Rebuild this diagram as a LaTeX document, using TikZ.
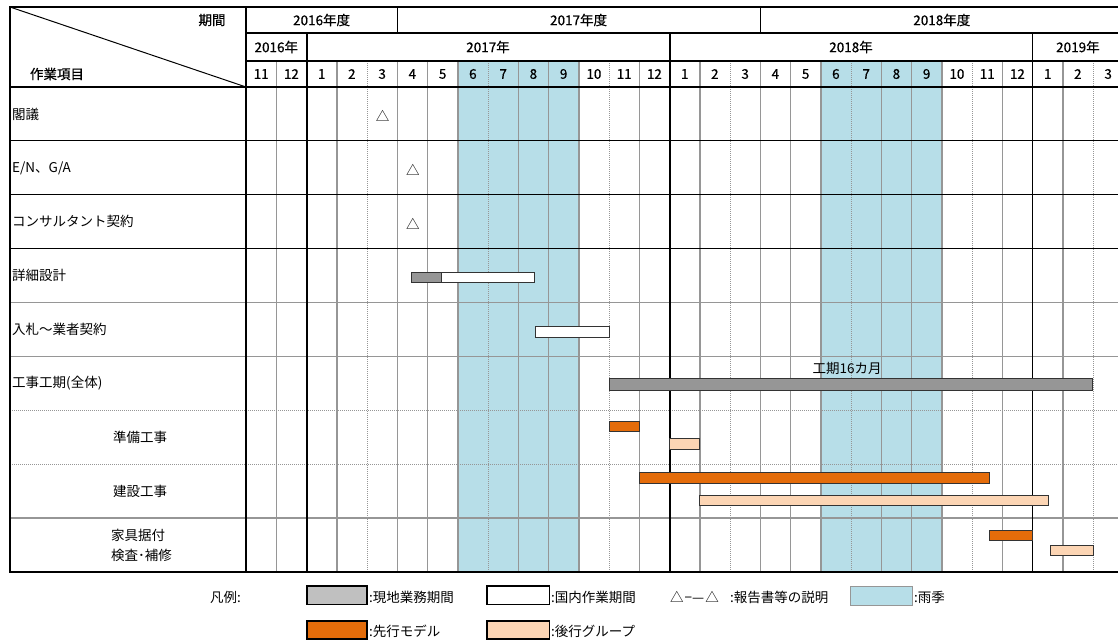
\documentclass[tikz,border=0pt]{standalone}
\usepackage{fontspec}
\setmainfont{Noto Sans CJK JP}
\newfontfamily\hdrfont{Noto Sans CJK JP}[FakeBold=0.6]
\definecolor{rain}{RGB}{183,222,232}
\definecolor{gridgray}{RGB}{150,150,150}
\definecolor{bargray}{RGB}{150,150,150}
\definecolor{leggray}{RGB}{192,192,192}
\definecolor{orangebar}{RGB}{228,108,10}
\definecolor{peach}{RGB}{252,213,180}
\tikzset{
  txt/.style={inner sep=0pt, font=\fontsize{13.5}{15}\selectfont},
  hdr/.style={inner sep=0pt, font=\fontsize{13.5}{15}\selectfont\hdrfont},
  gline/.style={draw=gridgray, line width=1.5pt},
  dline/.style={draw=gridgray, line width=1pt, dash pattern=on 1pt off 1pt},
  bline/.style={draw=black, line width=1pt},
  thick line/.style={draw=black, line width=2pt},
  bar/.style={draw=black!80, line width=0.9pt},
  legbox/.style={draw=black, line width=1.6pt},
}
\begin{document}
\begin{tikzpicture}[x=1pt,y=-1pt]
\useasboundingbox (0,0) rectangle (1118,641);
\begin{scope}
\clip (0,0) rectangle (1118,641);
% rainy season shading
\fill[rain] (457.75,61) rectangle (578.75,572);
\fill[rain] (820.75,61) rectangle (941.75,572);
% vertical grid lines (month row + body)
\foreach \i in {1,3,5,6,7,9,10,11,13,15,17,18,19,21,22,23,25,27,29}
  \draw[gline] ({246+\i*30.25},61) -- ({246+\i*30.25},572);
\foreach \i in {4,8,12,16,20,24,28}
  \draw[dline] ({246+\i*30.25},61) -- ({246+\i*30.25},572);
% horizontal body lines
\foreach \k in {4,5}
  \draw[gline] (10,{87+53.9*\k}) -- (1118,{87+53.9*\k});
\draw[gline] (10,{87+53.9*8}) -- (1118,{87+53.9*8});
\foreach \k in {6,7}
  \draw[dline] (10,{87+53.9*\k}) -- (1118,{87+53.9*\k});
\foreach \k in {1,2,3}
  \draw[bline] (10,{87+53.9*\k}) -- (1118,{87+53.9*\k});
% year boundaries
\draw[thick line] ({246+2*30.25},33) -- ({246+2*30.25},572);
\draw[thick line] ({246+14*30.25},33) -- ({246+14*30.25},572);
\draw[bline] ({246+26*30.25},33) -- ({246+26*30.25},572);
% fiscal year boundaries (row 1)
\draw[bline, line width=1.3pt] ({246+5*30.25},7) -- ({246+5*30.25},33);
\draw[bline, line width=1.3pt] ({246+17*30.25},7) -- ({246+17*30.25},33);
% header horizontals
\draw[bline, line width=1.3pt] (246,33) -- (1118,33);
\draw[bline, line width=1.3pt] (246,61) -- (1118,61);
\draw[thick line] (10,87) -- (1118,87);
% diagonal
\draw[bline] (10,7) -- (246,87);
% outer frame
\draw[thick line] (246,7) -- (246,572);
\draw[thick line] (1118,7) -- (10,7) -- (10,572) -- (1118,572);

% header texts
\node[hdr] (hperiod) at (212,20) {期間};
\node[hdr] (hitem) at (57,74) {作業項目};
\node[hdr] (fy16) at (321.6,20) {2016年度};
\node[hdr] (fy17) at (578.6,20) {2017年度};
\node[hdr] (fy18) at (941.8,20) {2018年度};
\node[hdr] (y16) at (276.3,47) {2016年};
\node[hdr] (y17) at (488.0,47) {2017年};
\node[hdr] (y18) at (851.0,47) {2018年};
\node[hdr] (y19) at (1077.9,47) {2019年};
\foreach \m [count=\i from 0] in {11,12,1,2,3,4,5,6,7,8,9,10,11,12,1,2,3,4,5,6,7,8,9,10,11,12,1,2,3}
  \node[hdr] (m\i) at ({246+(\i+0.5)*30.25},74) {\m};

% row labels
\node[txt, anchor=west] (r1) at (12,114.0) {閣議};
\node[txt, anchor=west] (r2) at (12,167.9) {E/N、G/A};
\node[txt, anchor=west] (r3) at (12,221.8) {コンサルタント契約};
\node[txt, anchor=west] (r4) at (12,275.7) {詳細設計};
\node[txt, anchor=west] (r5) at (12,329.6) {入札～業者契約};
\node[txt, anchor=west] (r6) at (12,383.5) {工事工期(全体)};
\node[txt] (r7) at (140,437.4) {準備工事};
\node[txt] (r8) at (140,491.3) {建設工事};
\node[txt, anchor=west] (r9a) at (111,535) {家具据付};
\node[txt, anchor=west] (r9b) at (111,555) {検査･補修};

% milestones
\node[txt] (t1) at (382.6,116) {△};
\node[txt] (t2) at (412.9,170) {△};
\node[txt] (t3) at (412.9,224) {△};

% bars
\draw[bar, fill=bargray] (411,272.3) rectangle (441.5,282.8);
\draw[bar, fill=white] (441.5,272.3) rectangle (534.5,282.8);
\draw[bar, fill=white] (535,326.3) rectangle (609.3,337.3);
\draw[bar, fill=bargray] (609.3,378.3) rectangle (1092.5,390.7);
\node[txt] (dur) at (847,368) {工期16カ月};
\draw[bar, fill=orangebar] (609.3,421.5) rectangle (639.5,431.5);
\draw[bar, fill=peach] (669.5,438.5) rectangle (699.8,449);
\draw[bar, fill=orangebar] (639.5,472.7) rectangle (989,483.3);
\draw[bar, fill=peach] (699.8,495) rectangle (1048.3,505.7);
\draw[bar, fill=orangebar] (989,530.3) rectangle (1032,540);
\draw[bar, fill=peach] (1050.7,545.3) rectangle (1093.3,555.3);

% legend
\node[txt, anchor=west] (leg) at (210,597) {凡例:};
\draw[legbox, fill=leggray] (306.7,586) rectangle (366.7,604.3);
\node[txt, anchor=west] (l1) at (369,597) {:現地業務期間};
\draw[legbox, fill=white] (486.7,586) rectangle (549.3,604.3);
\node[txt, anchor=west] (l2) at (551,597) {:国内作業期間};
\node[txt, anchor=west] (l3) at (670,597) {△\kern1pt−—\kern1pt△};
\node[txt, anchor=west] (l3b) at (730,597) {:報告書等の説明};
\draw[draw=gridgray, line width=1pt, fill=rain] (850.7,586) rectangle (912.7,605);
\node[txt, anchor=west] (l4) at (914,597) {:雨季};
\draw[legbox, fill=orangebar] (306.7,620.7) rectangle (366.7,639);
\node[txt, anchor=west] (l5) at (369,631) {:先行モデル};
\draw[legbox, fill=peach] (486.7,620.7) rectangle (549.3,639);
\node[txt, anchor=west] (l6) at (551,631) {:後行グループ};
\end{scope}
\end{tikzpicture}
\end{document}
